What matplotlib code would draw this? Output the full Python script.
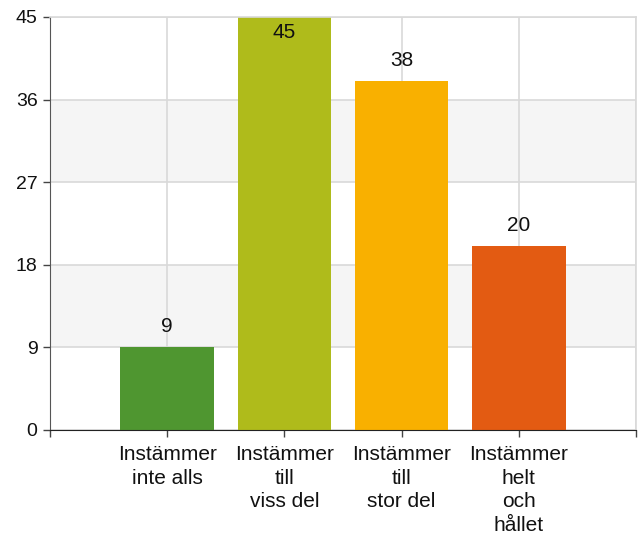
import matplotlib
matplotlib.use("Agg")
import matplotlib.pyplot as plt

categories = ["Instämmer\ninte alls", "Instämmer\ntill\nviss del", "Instämmer\ntill\nstor del", "Instämmer\nhelt\noch\nhållet"]
values = [9, 45, 38, 20]
colors = ["#4f9630", "#afbb1b", "#f9b000", "#e35b12"]
yticks = [0, 9, 18, 27, 36, 45]

plt.rcParams['font.family'] = ['Liberation Sans', 'DejaVu Sans']

fig = plt.figure(figsize=(6.4, 5.35), dpi=100)
ax = fig.add_axes([50/640, 1-430/535, 586/640, 413/535])

x = list(range(len(categories)))
ax.set_xlim(-1, len(categories))
ax.set_ylim(0, 45)

# alternating bands
for i in range(len(yticks)-1):
    if i % 2 == 1:
        ax.axhspan(yticks[i], yticks[i+1], color="#f5f5f5", zorder=0, lw=0)

ax.set_yticks(yticks)
ax.set_xticks([-1] + x + [len(categories)])
ax.grid(True, color="#d9d9d9", lw=1.2, zorder=1)
ax.set_axisbelow(True)

bars = ax.bar(x, values, width=0.8, color=colors, zorder=2)

for xi, v in zip(x, values):
    if v >= 44:
        ax.annotate(str(v), (xi, v), xytext=(0, -4), textcoords="offset points",
                    ha="center", va="top", fontsize=15, color="#111111", zorder=3)
    else:
        ax.annotate(str(v), (xi, v), xytext=(0, 8), textcoords="offset points",
                    ha="center", va="bottom", fontsize=15, color="#111111", zorder=3)

ax.set_xticklabels([""] + categories + [""], fontsize=15, linespacing=1.3, color="#111111")
ax.set_yticklabels([str(t) for t in yticks], fontsize=14, color="#111111")

ax.tick_params(axis="x", length=5, width=1, color="#444444", pad=6)
ax.tick_params(axis="y", length=5, width=1, color="#444444", pad=4)

ax.spines["top"].set_color("#d9d9d9")
ax.spines["right"].set_color("#d9d9d9")
ax.spines["left"].set_color("#555555")
ax.spines["bottom"].set_color("#222222")
ax.spines["top"].set_linewidth(1.2)
ax.spines["right"].set_linewidth(1.2)

fig.savefig("out.png", dpi=100)
